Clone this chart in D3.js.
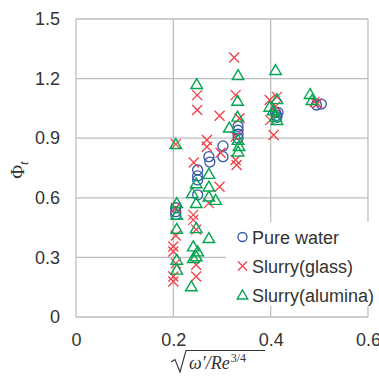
<!DOCTYPE html>
<html><head><meta charset="utf-8">
<script src="https://cdn.jsdelivr.net/npm/d3@7"></script>
<style>body{margin:0;background:#fff}svg{display:block}</style>
</head><body>
<script>
const xTicks = [0, 0.2, 0.4, 0.6];
const yTicks = [0, 0.3, 0.6, 0.9, 1.2, 1.5];
const seriesNames = ["Pure water", "Slurry(glass)", "Slurry(alumina)"];
const pureWater = [
  [0.205,0.55],[0.205,0.53],[0.205,0.515],
  [0.25,0.74],[0.25,0.71],[0.25,0.69],[0.25,0.615],
  [0.273,0.807],[0.275,0.78],
  [0.302,0.861],[0.302,0.807],
  [0.333,0.96],[0.333,0.94],[0.333,0.92],[0.333,0.90],
  [0.41,1.03],[0.412,1.015],[0.415,1.03],[0.413,1.005],
  [0.494,1.067],[0.504,1.072]
];
const slurryGlass = [
  [0.205,0.87],[0.205,0.55],[0.205,0.41],[0.2,0.355],[0.2,0.33],[0.205,0.27],[0.2,0.204],[0.2,0.179],
  [0.249,1.117],[0.249,1.042],[0.242,0.778],[0.241,0.514],[0.241,0.489],[0.247,0.44],[0.247,0.263],[0.247,0.204],
  [0.269,0.891],[0.269,0.857],[0.273,0.573],
  [0.295,1.013],[0.297,0.827],[0.295,0.656],
  [0.325,1.306],[0.328,1.117],[0.336,1.0],[0.328,0.908],[0.328,0.79],[0.33,0.765],
  [0.398,1.092],[0.413,1.108],[0.399,0.991],[0.406,0.916],[0.41,1.06],
  [0.49,1.083],[0.496,1.075]
];
const slurryAlumina = [
  [0.205,0.87],[0.207,0.573],[0.207,0.514],[0.207,0.444],[0.207,0.288],[0.207,0.238],
  [0.248,1.172],[0.247,0.673],[0.239,0.623],[0.247,0.573],[0.247,0.447],[0.241,0.355],[0.25,0.33],[0.241,0.296],[0.247,0.305],[0.237,0.154],
  [0.273,0.72],[0.273,0.656],[0.273,0.606],[0.287,0.589],[0.273,0.397],
  [0.315,0.953],
  [0.333,1.217],[0.332,1.088],[0.332,1.008],[0.333,0.891],[0.335,0.86],[0.333,0.832],
  [0.41,1.243],[0.398,1.058],[0.413,1.096],[0.41,1.008],[0.413,0.991],[0.405,1.04],
  [0.481,1.122],[0.485,1.092]
];
const colors = ["#3456A8", "#F23E48", "#00A650"];

const W = 379, H = 376;
const m = {left: 76, right: 11, top: 19, bottom: 59};
const svg = d3.select("body").append("svg").attr("width", W).attr("height", H);
const x = d3.scaleLinear().domain([0, 0.6]).range([m.left, W - m.right]);
const y = d3.scaleLinear().domain([0, 1.5]).range([H - m.bottom, m.top]);
const grid = "#BEBEBE";
const font = "'Liberation Sans', Arial, sans-serif";

// grid
svg.append("g").selectAll("line.v").data(xTicks).join("line")
  .attr("x1", d => x(d)).attr("x2", d => x(d)).attr("y1", y(0)).attr("y2", y(1.5))
  .attr("stroke", grid).attr("stroke-width", 1.3);
svg.append("g").selectAll("line.h").data(yTicks).join("line")
  .attr("x1", x(0)).attr("x2", x(0.6)).attr("y1", d => y(d)).attr("y2", d => y(d))
  .attr("stroke", grid).attr("stroke-width", 1.3);

// axes
const xa = svg.append("g").attr("transform", `translate(0,${y(0)})`)
  .call(d3.axisBottom(x).tickValues(xTicks).tickFormat(d => d3.format("")(d)).tickSize(0).tickPadding(16));
const ya = svg.append("g").attr("transform", `translate(${x(0)},0)`)
  .call(d3.axisLeft(y).tickValues(yTicks).tickFormat(d => d === 0 ? "0" : d3.format(".1f")(d)).tickSize(0).tickPadding(16));
[xa, ya].forEach(g => {
  g.select(".domain").remove();
  g.selectAll("text").attr("font-family", font).attr("font-size", 18).attr("fill", "#333");
});

// markers
const clip = svg.append("g");
clip.selectAll("circle.pw").data(pureWater).join("circle")
  .attr("cx", d => x(d[0])).attr("cy", d => y(d[1])).attr("r", 5)
  .attr("fill", "none").attr("stroke", colors[0]).attr("stroke-width", 1.3);
const crossPath = s => `M${-s},${-s}L${s},${s}M${-s},${s}L${s},${-s}`;
clip.selectAll("path.sg").data(slurryGlass).join("path")
  .attr("transform", d => `translate(${x(d[0])},${y(d[1])})`)
  .attr("d", crossPath(5)).attr("fill", "none").attr("stroke", colors[1]).attr("stroke-width", 1.3);
const triPath = s => `M0,${-s}L${s*1.05},${s*0.8}L${-s*1.05},${s*0.8}Z`;
clip.selectAll("path.sa").data(slurryAlumina).join("path")
  .attr("transform", d => `translate(${x(d[0])},${y(d[1])})`)
  .attr("d", triPath(5.5)).attr("fill", "none").attr("stroke", colors[2]).attr("stroke-width", 1.4);

// legend
const lg = svg.append("g");
lg.append("rect").attr("x", 226).attr("y", 222).attr("width", 160).attr("height", 84).attr("fill", "#fff");
const ly = [237, 266, 295];
seriesNames.forEach((n, i) => {
  const cx = 242.5, cy = ly[i];
  if (i === 0) lg.append("circle").attr("cx", cx).attr("cy", cy).attr("r", 4.5).attr("fill", "none").attr("stroke", colors[0]).attr("stroke-width", 1.3);
  if (i === 1) lg.append("path").attr("transform", `translate(${cx},${cy})`).attr("d", crossPath(4.5)).attr("fill", "none").attr("stroke", colors[1]).attr("stroke-width", 1.3);
  if (i === 2) lg.append("path").attr("transform", `translate(${cx},${cy})`).attr("d", triPath(5)).attr("fill", "none").attr("stroke", colors[2]).attr("stroke-width", 1.4);
  lg.append("text").attr("x", 252).attr("y", cy + 6.5).attr("font-family", font).attr("font-size", 18).attr("fill", "#333").text(n);
});

// y label
const yl = svg.append("text").attr("transform", "translate(24,170) rotate(-90)")
  .attr("font-family", "'Liberation Serif', 'DejaVu Serif', serif").attr("font-size", 19).attr("fill", "#333").attr("text-anchor", "middle");
yl.append("tspan").text("Φ");
yl.append("tspan").attr("font-size", 13).attr("font-style", "italic").attr("dy", 4).text("t");

// x label
const xl = svg.append("g");
xl.append("path").attr("d", "M171,362 L175,359.5 L180,372 L186,350.5 L265,350.5")
  .attr("fill", "none").attr("stroke", "#333").attr("stroke-width", 1.1);
const xt = xl.append("text").attr("x", 189).attr("y", 369)
  .attr("font-family", "'Liberation Serif', 'DejaVu Serif', serif").attr("font-size", 18).attr("font-style", "italic").attr("fill", "#333");
xt.append("tspan").text("ω′/");
xt.append("tspan").text("Re");
xt.append("tspan").attr("font-size", 12).attr("font-style", "normal").attr("dy", -7).attr("dx", 1).text("3/4");
</script>
</body></html>
